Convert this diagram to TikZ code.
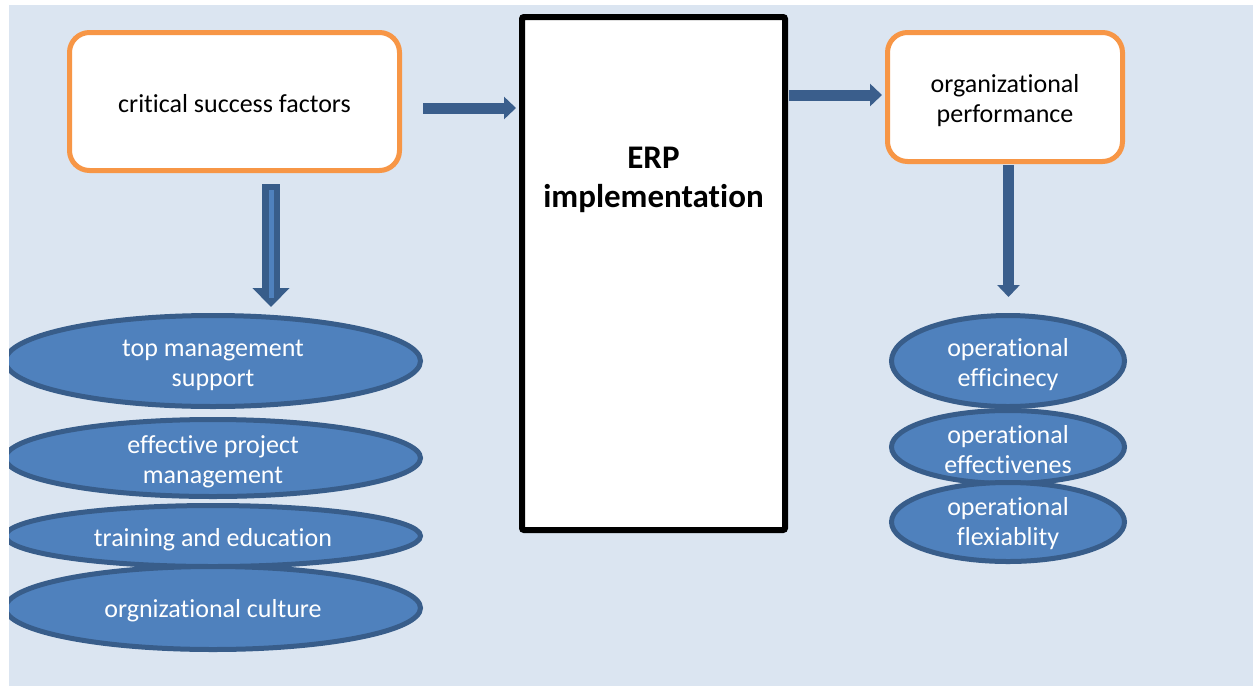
\documentclass[tikz,border=0pt]{standalone}
\usepackage{fontspec}
\setmainfont{Carlito}[Ligatures=CommonOff]
\usetikzlibrary{arrows.meta,shapes.geometric,calc}
\definecolor{panel}{HTML}{DBE5F1}
\definecolor{accent}{HTML}{F79646}
\definecolor{ovalfill}{HTML}{4F81BD}
\definecolor{ovaledge}{HTML}{385D8A}
\definecolor{arrowblue}{HTML}{3A5E8C}
\begin{document}
\begin{tikzpicture}[x=1pt,y=-1pt,
  txt/.style={font=\fontsize{26}{30}\selectfont, align=center, inner sep=0pt},
  softbox/.style={draw=accent, line width=5pt, fill=white, rounded corners=20pt, inner sep=0pt},
  oval/.style={ellipse, draw=ovaledge, fill=ovalfill, line width=5pt, inner sep=0pt},
  ovaltext/.style={txt, text=white},
  flow/.style={draw=arrowblue, line width=11pt, -{Triangle[width=22pt,length=12pt]}},
  bigflow/.style={draw=ovaledge, line width=18pt, -{Triangle[width=36pt,length=19pt]}},
]
\useasboundingbox (0,0) rectangle (1253,686);
\fill[panel] (9,5) rectangle (1253,686);

\begin{scope}
\clip (9,5) rectangle (1253,686);

% main boxes
\node[softbox, minimum width=330pt, minimum height=138pt] (csf) at (234.5,101.5) {};
\node[txt] (csft) at ([yshift=-2pt]csf.center) {critical success factors};
\node[draw=black, fill=white, line width=6pt, rounded corners=2pt, minimum width=263pt, minimum height=513pt] (erp) at (653.5,273.5) {};
\node[font=\bfseries\fontsize{33}{39}\selectfont, align=center, inner sep=0pt] (erptext) at ([yshift=-166pt]erp.north) {ERP\\implementation};
\node[softbox, minimum width=235pt, minimum height=129pt] (op) at (1005,97) {};
\node[txt] (opt) at ([yshift=-3.5pt]op.center) {organizational\\performance};

% success factors
\node[oval, minimum width=415pt, minimum height=91pt] (l1) at (213,361) {};
\node[ovaltext] (l1t) at ([yshift=-4pt]l1.center) {top management\\support};
\node[oval, minimum width=415pt, minimum height=77pt] (l2) at (213,458) {};
\node[ovaltext] (l2t) at ([yshift=-4pt]l2.center) {effective project\\management};
\node[oval, minimum width=415pt, minimum height=61pt] (l3) at (213,536) {};
\node[ovaltext] (l3t) at ([yshift=-4pt]l3.center) {training and education};
\node[oval, minimum width=415pt, minimum height=83pt] (l4) at (213,608) {};
\node[ovaltext] (l4t) at ([yshift=-3pt]l4.center) {orgnizational culture};

% performance dimensions
\node[oval, minimum width=233pt, minimum height=91pt] (r1) at (1008,361) {};
\node[ovaltext] (r1t) at ([yshift=-3.5pt]r1.center) {operational\\efficinecy};
\node[oval, minimum width=233pt, minimum height=73pt] (r2) at (1008,447) {};
\node[ovaltext] (r2t) at ([yshift=-3pt]r2.center) {operational\\effectivenes};
\node[oval, minimum width=233pt, minimum height=79pt] (r3) at (1008,522) {};
\node[ovaltext] (r3t) at ([yshift=-2pt]r3.center) {operational\\flexiablity};

% connectors
\draw[flow, shorten <=21pt, shorten >=3pt] ([yshift=-6.5pt]csf.east) -- ([yshift=-6.5pt]csf.east -| erp.west);
\draw[flow, shorten <=1pt, shorten >=3pt] ([yshift=2pt]op.west -| erp.east) -- ([yshift=2pt]op.west);
\draw[flow, shorten <=1pt, shorten >=16pt] ([xshift=3.5pt]op.south) -- ([xshift=3.5pt]op.south |- r1.north);
\draw[bigflow, shorten <=11pt, shorten >=6pt] ([xshift=36.5pt]csf.south) -- ([xshift=36.5pt]csf.south |- l1.north);
\draw[ovalfill, line width=5pt, shorten <=17pt, shorten >=15pt] ([xshift=36.5pt]csf.south) -- ([xshift=36.5pt]csf.south |- l1.north);
\end{scope}
\end{tikzpicture}
\end{document}
